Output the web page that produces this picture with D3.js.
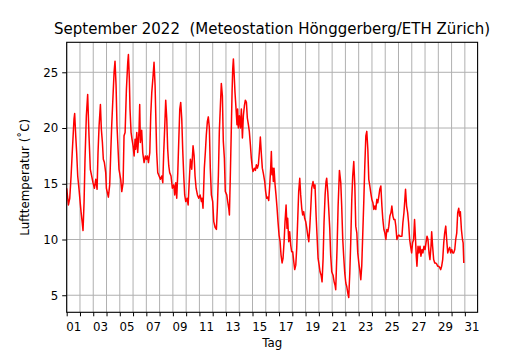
<!DOCTYPE html>
<html><head><meta charset="utf-8">
<script src="https://cdn.jsdelivr.net/npm/d3@7"></script>
<style>
html,body{margin:0;padding:0;background:#fff;}
svg text{font-family:"DejaVu Sans",sans-serif;fill:#000;}
</style></head>
<body><svg id="c" width="530" height="350"></svg>
<script>
// time in days since 1 Sep 2022 00:00
const dayFrac = [
0.00,0.13,0.23,0.33,0.43,0.55,0.60,0.68,0.75,0.83,0.93,1.01,1.08,1.18,1.23,1.31,1.38,1.48,1.58,1.68,1.78,1.88,1.98,
2.09,2.19,2.29,2.36,2.44,2.54,2.61,2.69,2.76,2.84,2.94,2.99,3.14,3.24,3.32,3.39,3.49,3.57,3.64,3.72,3.79,3.87,3.94,
4.07,4.15,4.25,4.32,4.40,4.50,4.60,4.65,4.72,4.77,4.85,4.92,5.00,5.08,5.15,5.20,5.28,5.35,5.45,5.50,5.55,5.65,5.73,5.83,5.93,
6.01,6.08,6.16,6.26,6.33,6.41,6.51,6.58,6.66,6.73,6.78,6.86,6.96,7.06,7.16,7.24,7.31,7.39,7.46,7.54,7.61,7.69,7.76,7.86,7.96,
8.07,8.14,8.22,8.29,8.37,8.44,8.52,8.59,8.67,8.74,8.82,8.89,8.97,9.07,9.15,9.22,9.32,9.42,9.52,9.60,9.67,9.75,9.85,9.95,
10.05,10.15,10.20,10.27,10.37,10.45,10.52,10.60,10.67,10.75,10.82,10.90,11.00,11.08,11.18,11.28,11.35,11.43,11.50,11.58,11.65,11.73,11.80,11.88,11.95,
12.06,12.13,12.21,12.26,12.33,12.41,12.46,12.51,12.56,12.61,12.68,12.76,12.83,12.88,12.93,13.01,13.09,13.16,13.24,13.31,13.39,13.46,13.54,13.61,13.69,13.76,13.84,13.91,13.99,
14.04,14.14,14.22,14.29,14.37,14.44,14.52,14.59,14.67,14.74,14.82,14.92,14.99,15.07,15.15,15.22,15.30,15.37,15.42,15.47,15.52,15.57,15.62,15.70,15.77,15.85,15.92,
16.00,16.08,16.15,16.23,16.30,16.38,16.45,16.53,16.60,16.65,16.73,16.80,16.88,16.95,17.03,17.11,17.18,17.26,17.33,17.41,17.48,17.56,17.63,17.71,17.78,17.86,17.93,
18.01,18.09,18.16,18.24,18.31,18.39,18.46,18.56,18.64,18.71,18.79,18.86,18.94,19.02,19.09,19.17,19.24,19.32,19.39,19.47,19.54,19.59,19.67,19.74,19.82,19.89,19.97,
20.07,20.15,20.22,20.27,20.37,20.45,20.55,20.65,20.72,20.80,20.87,20.95,21.03,21.10,21.18,21.25,21.33,21.40,21.48,21.55,21.63,21.71,21.78,21.86,21.93,
22.01,22.08,22.16,22.23,22.31,22.39,22.46,22.54,22.61,22.69,22.76,22.84,22.91,22.99,23.07,23.14,23.22,23.29,23.37,23.44,23.52,23.59,23.67,23.75,23.82,23.90,23.97,
24.05,24.12,24.20,24.27,24.35,24.43,24.50,24.58,24.65,24.73,24.80,24.88,24.95,25.03,25.11,25.18,25.26,25.33,25.41,25.48,25.53,25.61,25.69,25.76,25.84,25.91,25.99,
26.06,26.14,26.21,26.26,26.34,26.39,26.47,26.54,26.62,26.69,26.77,26.84,26.92,27.00,27.07,27.15,27.22,27.30,27.37,27.45,27.50,27.57,27.65,27.73,27.80,27.88,27.95,
28.03,28.10,28.18,28.25,28.33,28.41,28.48,28.56,28.63,28.71,28.78,28.86,28.93,29.01,29.09,29.16,29.24,29.31,29.39,29.46,29.54,29.61,29.66,29.74,29.82,29.87,29.92
];
// air temperature in °C
const tempC = [
14.6,13.1,13.7,15.7,18.1,20.8,21.3,19.3,17.8,15.7,14.5,13.4,12.5,11.4,10.8,13.4,17.2,21.1,23.0,19.3,16.3,15.7,15.1,
14.6,15.4,14.5,17.8,20.2,22.1,19.9,18.7,17.2,16.9,16.0,14.6,13.8,14.9,17.8,20.2,22.9,25.0,26.0,23.8,20.2,18.1,16.3,
15.4,14.3,15.1,19.3,19.6,23.5,25.9,26.6,24.4,21.7,19.6,19.0,18.4,17.5,19.0,18.1,19.6,17.8,19.8,22.1,18.7,19.8,17.8,16.9,17.5,
17.2,17.5,16.9,17.8,21.1,23.2,24.7,25.9,23.8,20.2,17.8,16.0,15.7,15.4,15.7,15.1,17.8,20.2,22.5,20.8,18.1,16.6,16.0,15.7,14.6,
14.9,14.0,15.1,13.7,16.0,18.7,21.7,22.3,20.8,18.1,15.7,14.0,13.4,13.7,13.1,14.9,17.2,16.3,18.4,17.5,15.7,14.6,14.0,13.7,
14.0,13.4,13.7,12.8,16.4,17.9,19.4,20.6,21.0,20.0,16.4,14.0,13.4,11.6,11.1,10.9,12.8,15.8,19.7,22.0,24.0,22.9,18.8,17.3,14.3,
14.0,13.4,12.8,12.2,15.8,20.3,23.2,25.3,26.2,25.0,23.2,21.7,20.3,21.7,20.0,21.1,20.0,21.7,19.1,21.1,22.0,22.5,22.3,20.9,20.3,19.7,18.5,17.3,16.4,
16.1,16.4,16.2,16.7,16.4,16.7,17.9,19.2,17.6,16.4,15.9,15.2,14.3,13.7,13.8,13.5,14.9,16.4,17.9,15.8,16.4,15.2,16.4,14.9,14.0,12.8,11.6,
10.4,9.8,8.6,7.9,8.3,9.8,11.6,13.1,11.0,11.9,9.8,10.7,9.5,8.9,8.9,8.0,7.3,7.7,9.2,11.9,14.3,15.5,14.0,12.8,12.2,12.5,11.9,
11.6,11.0,10.4,9.8,11.0,12.8,14.6,15.2,14.6,14.9,12.2,10.4,8.3,7.7,7.1,6.8,6.2,8.3,11.6,14.0,15.2,15.5,14.3,12.8,11.0,8.6,7.1,
6.8,6.2,5.9,5.5,9.2,13.0,16.2,15.1,13.0,10.0,8.5,7.0,6.1,5.8,5.2,4.8,7.0,9.7,13.6,15.7,17.0,14.8,11.2,10.6,8.8,
7.9,7.3,6.4,7.6,10.6,13.6,16.6,19.3,19.7,18.1,15.4,14.8,14.2,13.6,13.3,12.7,13.0,12.7,13.6,13.3,13.9,14.5,14.8,13.0,11.8,10.9,10.6,
10.0,10.9,10.7,11.2,12.1,12.4,13.0,12.1,11.8,11.8,11.2,10.0,10.3,10.4,10.3,10.3,10.3,11.5,12.4,13.6,14.5,13.0,12.4,11.5,10.0,9.4,8.8,
9.7,10.0,11.8,10.6,8.5,7.6,9.4,8.8,9.4,8.5,9.1,8.8,9.4,9.1,9.7,10.3,10.0,8.8,8.2,9.4,10.7,9.4,8.2,7.9,7.9,7.8,7.6,
7.6,7.5,7.3,7.6,8.2,9.7,10.6,11.2,10.0,8.8,9.1,9.3,8.8,9.1,8.8,8.8,9.1,10.0,10.6,12.4,12.8,12.1,12.5,10.9,10.0,9.7,7.9
];
const dayTicks = d3.range(0, 31);                // midnight of each day
const labelDays = d3.range(0, 31, 2);            // labelled days (at noon)
const xTickLabels = ["01","03","05","07","09","11","13","15","17","19","21","23","25","27","29","31"];
const yTicks = [5, 10, 15, 20, 25];
const titleText = "September 2022  (Meteostation Hönggerberg/ETH Zürich)";
const xLabel = "Tag";
const yLabel = "Lufttemperatur (˚C)";

const L = 66.7, R = 477.6, T = 42.3, B = 312.3;
const x = d3.scaleLinear().domain([0, 30.96]).range([L, R]);
const y = d3.scaleLinear().domain([3.47, 27.69]).range([B, T]);

const svg = d3.select("#c");
svg.append("rect").attr("width",530).attr("height",350).attr("fill","#fff");

// grid
const grid = svg.append("g");
grid.selectAll("line.v").data(dayTicks).join("line")
  .attr("x1", d => x(d)).attr("x2", d => x(d)).attr("y1", T).attr("y2", B)
  .attr("stroke", "#b0b0b0").attr("stroke-width", 1);
grid.selectAll("line.h").data(yTicks).join("line")
  .attr("x1", L).attr("x2", R).attr("y1", d => y(d)).attr("y2", d => y(d))
  .attr("stroke", "#b0b0b0").attr("stroke-width", 1);

// data line
const pts = dayFrac.map((d, i) => [d, tempC[i]]);
svg.append("path").datum(pts)
  .attr("d", d3.line().x(d => x(d[0])).y(d => y(d[1])))
  .attr("fill", "none").attr("stroke", "#ff0000").attr("stroke-width", 1.5)
  .attr("stroke-linejoin", "round");

// axes
const gx = svg.append("g").attr("transform", `translate(0,${B})`)
  .call(d3.axisBottom(x).tickValues(dayTicks).tickFormat("").tickSizeInner(4).tickSizeOuter(0));
gx.select(".domain").remove();
gx.selectAll(".tick line").attr("stroke", "#000").attr("stroke-width", 1);

const gxl = svg.append("g").attr("transform", `translate(0,${B})`)
  .call(d3.axisBottom(x).tickValues(labelDays.map(d => d + 0.5))
    .tickFormat((d, i) => xTickLabels[i]).tickSize(0).tickPadding(12));
gxl.select(".domain").remove();
gxl.selectAll("text").attr("font-size", "11.8px").attr("font-family", "DejaVu Sans").attr("dy", null).attr("y", 19);

const gy = svg.append("g").attr("transform", `translate(${L},0)`)
  .call(d3.axisLeft(y).tickValues(yTicks).tickFormat(d3.format("d")).tickSizeInner(4.5).tickSizeOuter(0).tickPadding(4));
gy.select(".domain").remove();
gy.selectAll(".tick line").attr("stroke", "#000").attr("stroke-width", 1);
gy.selectAll("text").attr("font-size", "11.8px").attr("font-family", "DejaVu Sans");

// frame
svg.append("rect").attr("x", L).attr("y", T).attr("width", R - L).attr("height", B - T)
  .attr("fill", "none").attr("stroke", "#000").attr("stroke-width", 1.1);

// texts
svg.append("text").attr("x", (L + R) / 2).attr("y", 33.5).attr("text-anchor", "middle")
  .style("white-space", "pre").attr("xml:space", "preserve")
  .attr("font-size", "15px").text(titleText);
svg.append("text").attr("x", (L + R) / 2).attr("y", 346.5).attr("text-anchor", "middle")
  .attr("font-size", "11.8px").text(xLabel);
svg.append("text").attr("transform", `translate(28.7,${(T + B) / 2}) rotate(-90)`)
  .attr("text-anchor", "middle").attr("font-size", "11.8px").text(yLabel);
</script></body></html>
